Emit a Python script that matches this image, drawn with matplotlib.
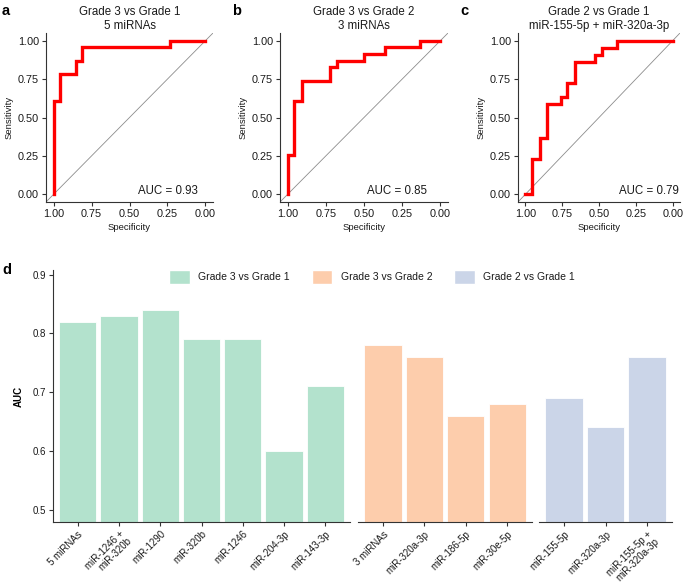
import matplotlib
matplotlib.use("Agg")
import matplotlib.pyplot as plt
from matplotlib.patches import Patch

plt.rcParams['font.family'] = ['Liberation Sans', 'DejaVu Sans']

# ---------------- ROC data (specificity, sensitivity vertices) ----------------
roc_titles = ["Grade 3 vs Grade 1\n5 miRNAs",
              "Grade 3 vs Grade 2\n3 miRNAs",
              "Grade 2 vs Grade 1\nmiR-155-5p + miR-320a-3p"]
roc_auc = ["AUC = 0.93", "AUC = 0.85", "AUC = 0.79"]
roc_letters = ["a", "b", "c"]

spec_a = [1, 1, 0.956, 0.956, 0.853, 0.853, 0.814, 0.814, 0.232, 0.232, 0]
sens_a = [0, 0.609, 0.609, 0.783, 0.783, 0.870, 0.870, 0.957, 0.957, 1, 1]

spec_b = [1, 1, 0.956, 0.956, 0.906, 0.906, 0.725, 0.725, 0.677, 0.677,
          0.498, 0.498, 0.365, 0.365, 0.135, 0.135, 0]
sens_b = [0, 0.258, 0.258, 0.609, 0.609, 0.739, 0.739, 0.826, 0.826, 0.870,
          0.870, 0.913, 0.913, 0.957, 0.957, 1, 1]

spec_c = [1, 0.953, 0.953, 0.904, 0.904, 0.854, 0.854, 0.760, 0.760, 0.717,
          0.717, 0.666, 0.666, 0.529, 0.529, 0.478, 0.478, 0.381, 0.381, 0]
sens_c = [0, 0, 0.227, 0.227, 0.364, 0.364, 0.591, 0.591, 0.636, 0.636,
          0.727, 0.727, 0.864, 0.864, 0.909, 0.909, 0.955, 0.955, 1, 1]

roc_spec = [spec_a, spec_b, spec_c]
roc_sens = [sens_a, sens_b, sens_c]
roc_ticks = [0.0, 0.25, 0.5, 0.75, 1.0]

# ---------------- Bar data ----------------
groups = ["Grade 3 vs Grade 1", "Grade 3 vs Grade 2", "Grade 2 vs Grade 1"]
group_colors = ["#b3e2cd", "#fdcdac", "#cbd5e8"]
labels_g1 = ["5 miRNAs", "miR-1246 +\nmiR-320b", "miR-1290", "miR-320b",
             "miR-1246", "miR-204-3p", "miR-143-3p"]
auc_g1 = [0.82, 0.83, 0.84, 0.79, 0.79, 0.60, 0.71]
labels_g2 = ["3 miRNAs", "miR-320a-3p", "miR-186-5p", "miR-30e-5p"]
auc_g2 = [0.78, 0.76, 0.66, 0.68]
labels_g3 = ["miR-155-5p", "miR-320a-3p", "miR-155-5p +\nmiR-320a-3p"]
auc_g3 = [0.69, 0.64, 0.76]
bar_labels = [labels_g1, labels_g2, labels_g3]
bar_values = [auc_g1, auc_g2, auc_g3]
bar_yticks = [0.5, 0.6, 0.7, 0.8, 0.9]

W, H = 685, 583
fig = plt.figure(figsize=(W / 100, H / 100), dpi=100)

def fr(x0, x1, ytop, ybot):
    return [x0 / W, 1 - ybot / H, (x1 - x0) / W, (ybot - ytop) / H]

TXT = "#1a1a1a"
roc_boxes = [(46, 213), (280, 448), (518, 680)]
auc_x = [0.91, 0.875, 0.99]
letter_x = [2, 232, 460]

for i in range(3):
    x0, x1 = roc_boxes[i]
    ax = fig.add_axes(fr(x0, x1, 33, 202))
    ax.set_xlim(1.05, -0.05)
    ax.set_ylim(-0.05, 1.05)
    ax.axline((1, 0), (0, 1), color="#8c8c8c", lw=0.6, zorder=1)
    ax.plot(roc_spec[i], roc_sens[i], color="#ff0000", lw=2.4, zorder=3,
            solid_joinstyle="miter")
    for s in ["top", "right"]:
        ax.spines[s].set_visible(False)
    for s in ["left", "bottom"]:
        ax.spines[s].set_color("#333333")
        ax.spines[s].set_linewidth(0.8)
    ax.set_xticks(roc_ticks)
    ax.set_yticks(roc_ticks)
    ax.set_xticklabels([f"{t:.2f}" for t in roc_ticks])
    ax.set_yticklabels([f"{t:.2f}" for t in roc_ticks])
    ax.tick_params(labelsize=7.8, colors="#333333", labelcolor=TXT, length=3, width=0.8, pad=2)
    ax.set_xlabel("Specificity", fontsize=6.8, color=TXT, labelpad=3)
    ax.set_ylabel("Sensitivity", fontsize=6.8, color=TXT, labelpad=3)
    ax.set_title(roc_titles[i], fontsize=8.3, color=TXT, pad=3, linespacing=1.15)
    ax.text(auc_x[i], 0.065, roc_auc[i], transform=ax.transAxes, ha="right",
            va="center", fontsize=8.3, color=TXT)
    fig.text(letter_x[i] / W, 1 - 11 / H, roc_letters[i], fontsize=10.5,
             fontweight="bold", ha="left", va="center")

# ---------------- Bar chart facets ----------------
bar_boxes = [(53, 350), (358, 532), (539, 672)]
ylo, yhi = 0.479, 0.908
for g in range(3):
    x0, x1 = bar_boxes[g]
    ax = fig.add_axes(fr(x0, x1, 270, 522))
    n = len(bar_values[g])
    xs = list(range(1, n + 1))
    ax.bar(xs, bar_values[g], width=0.9, color=group_colors[g],
           edgecolor="white", linewidth=0.6)
    ax.set_xlim(0.4, n + 0.6)
    ax.set_ylim(ylo, yhi)
    ax.set_xticks(xs)
    ax.set_xticklabels(bar_labels[g], rotation=45, ha="right",
                       rotation_mode="anchor", fontsize=7, color=TXT,
                       multialignment="right", linespacing=1.0)
    for s in ["top", "right"]:
        ax.spines[s].set_visible(False)
    ax.spines["bottom"].set_color("#333333")
    ax.spines["bottom"].set_linewidth(0.8)
    ax.tick_params(axis="x", length=3, width=0.8, colors="#333333",
                   labelcolor=TXT, pad=2)
    if g == 0:
        ax.spines["left"].set_color("#333333")
        ax.spines["left"].set_linewidth(0.8)
        ax.set_yticks(bar_yticks)
        ax.set_yticklabels([f"{t:.1f}" for t in bar_yticks])
        ax.tick_params(axis="y", labelsize=7, length=3, width=0.8,
                       colors="#333333", labelcolor=TXT, pad=2)
        ax.set_ylabel("AUC", fontsize=7, fontweight="bold", labelpad=6)
    else:
        ax.spines["left"].set_visible(False)
        ax.set_yticks([])

fig.text(2 / W, 1 - 270 / H, "d", fontsize=10.5, fontweight="bold",
         ha="left", va="center")

handles = [Patch(facecolor=c, edgecolor="white", label=l)
           for c, l in zip(group_colors, groups)]
fig.legend(handles=handles, loc="center", bbox_to_anchor=(372 / W, 1 - 277 / H),
           ncol=3, frameon=False, fontsize=7.5, handlelength=2.0,
           handleheight=1.55, handletextpad=0.8, columnspacing=2.1,
           labelcolor=TXT)

fig.savefig("out.png", dpi=100)
